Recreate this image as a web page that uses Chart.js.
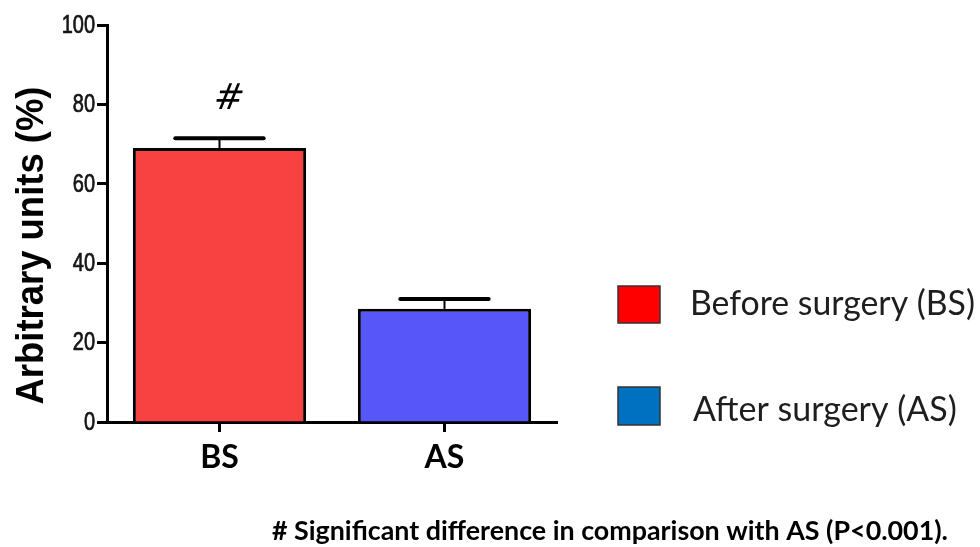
<!DOCTYPE html>
<html>
<head>
<meta charset="utf-8">
<script src="https://cdn.jsdelivr.net/npm/chart.js@4.4.1/dist/chart.umd.min.js"></script>
<style>
  html, body { margin: 0; padding: 0; background: #ffffff; }
  #wrap { position: relative; width: 980px; height: 547px; }
</style>
</head>
<body>
<div id="wrap"><canvas id="chart" width="980" height="547"></canvas></div>
<script>
// Group means and their error (SEM), in arbitrary units (%)
const categories = ['BS', 'AS'];
const meanValues = [69, 28.5];
const semValues = [2.5, 2.5];
const significanceMarks = ['#', ''];
const yTicks = [0, 20, 40, 60, 80, 100];
const yTitle = 'Arbitrary units (%)';
const legendLabels = ['Before surgery (BS)', 'After surgery (AS)'];
const footnote = '# Significant difference in comparison with AS (P<0.001).';

const barFill = ['#f84242', '#5757f9'];
const legendFill = ['#ff0000', '#0070c0'];
const sans = "'Liberation Sans', Arial, sans-serif";
const humanist = "'Lato', 'Open Sans', sans-serif";

// Font size that makes the text span the wanted width
function fitFont(ctx, text, weight, family, width) {
  ctx.font = weight + ' 100px ' + family;
  const w = ctx.measureText(text).width;
  return weight + ' ' + (100 * width / w).toFixed(2) + 'px ' + family;
}

// Condensed y-axis tick labels and title, placed through the y scale
const narrowAxis = {
  id: 'narrowAxis',
  afterDraw(chart) {
    const ctx = chart.ctx;
    const y = chart.scales.y;
    ctx.save();
    ctx.fillStyle = '#151515';
    ctx.strokeStyle = '#151515';
    ctx.lineWidth = 0.7;
    ctx.font = '25px ' + sans;
    ctx.textAlign = 'right';
    ctx.textBaseline = 'middle';
    yTicks.forEach(v => {
      const py = y.getPixelForValue(v);
      ctx.save();
      ctx.translate(95, py + 1);
      ctx.scale(0.8, 1);
      ctx.fillText(String(v), 0, 0);
      ctx.strokeText(String(v), 0, 0);
      ctx.restore();
    });
    // rotated title, squeezed along its length
    ctx.font = 'bold 39px ' + sans;
    const w = ctx.measureText(yTitle).width;
    const cy = (y.getPixelForValue(0) + y.getPixelForValue(100)) / 2 + 22;
    ctx.translate(43, cy);
    ctx.rotate(-Math.PI / 2);
    ctx.scale(318 / w, 1);
    ctx.fillStyle = '#000';
    ctx.textAlign = 'center';
    ctx.textBaseline = 'alphabetic';
    ctx.fillText(yTitle, 0, 0);
    ctx.restore();
  }
};

const errorBars = {
  id: 'errorBars',
  afterDatasetsDraw(chart) {
    const ctx = chart.ctx;
    const meta = chart.getDatasetMeta(0);
    const y = chart.scales.y;
    ctx.save();
    ctx.strokeStyle = '#000';
    meta.data.forEach((bar, i) => {
      const top = y.getPixelForValue(meanValues[i] + semValues[i]);
      const base = y.getPixelForValue(meanValues[i]);
      const half = bar.width * 0.255;
      ctx.lineWidth = 2;
      ctx.beginPath();
      ctx.moveTo(bar.x, base);
      ctx.lineTo(bar.x, top);
      ctx.stroke();
      ctx.lineWidth = 4;
      ctx.lineCap = 'round';
      ctx.beginPath();
      ctx.moveTo(bar.x - half, top);
      ctx.lineTo(bar.x + half, top);
      ctx.stroke();
      ctx.lineCap = 'butt';
      if (significanceMarks[i]) {
        // slanted hash mark above the bar
        ctx.save();
        ctx.fillStyle = '#000';
        ctx.font = "36px 'DejaVu Sans', sans-serif";
        ctx.textAlign = 'center';
        ctx.textBaseline = 'alphabetic';
        ctx.translate(bar.x + 8, top - 29);
        ctx.transform(1, 0, -0.15, 1, 0, 0);
        ctx.fillText(significanceMarks[i], 0, 0);
        ctx.restore();
      }
    });
    ctx.restore();
  }
};

const sideLegend = {
  id: 'sideLegend',
  afterDraw(chart) {
    const ctx = chart.ctx;
    ctx.save();
    const boxes = [{ x: 618, y: 286, w: 42, h: 37, ty: 304, tx: 690, tw: 285 },
                   { x: 618, y: 387, w: 42, h: 38, ty: 410, tx: 693, tw: 264 }];
    boxes.forEach((b, i) => {
      ctx.fillStyle = legendFill[i];
      ctx.fillRect(b.x, b.y, b.w, b.h);
      ctx.lineWidth = 1.5;
      ctx.strokeStyle = '#333';
      ctx.strokeRect(b.x, b.y, b.w, b.h);
      ctx.fillStyle = '#1e1e1e';
      ctx.font = fitFont(ctx, legendLabels[i], '400', humanist, b.tw);
      ctx.textAlign = 'left';
      ctx.textBaseline = 'middle';
      ctx.fillText(legendLabels[i], b.tx, b.ty);
    });
    ctx.fillStyle = '#000';
    ctx.font = fitFont(ctx, footnote, '700', humanist, 676);
    ctx.textAlign = 'left';
    ctx.textBaseline = 'middle';
    ctx.fillText(footnote, 272, 531);
    ctx.restore();
  }
};

new Chart(document.getElementById('chart'), {
  type: 'bar',
  data: {
    labels: categories,
    datasets: [{
      data: meanValues,
      backgroundColor: barFill,
      borderColor: '#000',
      borderWidth: 3,
      borderSkipped: 'start',
      categoryPercentage: 1,
      barPercentage: 0.77
    }]
  },
  options: {
    responsive: false,
    animation: false,
    devicePixelRatio: 1,
    layout: { padding: { left: 0, top: 25, right: 423, bottom: 0 } },
    plugins: { legend: { display: false }, tooltip: { enabled: false } },
    scales: {
      x: {
        afterFit(scale) { scale.height = 125; },
        grid: {
          offset: false,
          drawOnChartArea: false,
          tickLength: 10,
          tickColor: '#000',
          tickWidth: 3
        },
        border: { color: '#000', width: 3 },
        ticks: {
          color: '#000',
          padding: 6,
          font: { family: humanist, size: 32, weight: '700' }
        }
      },
      y: {
        min: 0,
        max: 100,
        afterFit(scale) { scale.width = 107; },
        afterBuildTicks(scale) { scale.ticks = yTicks.map(v => ({ value: v })); },
        grid: {
          drawOnChartArea: false,
          tickLength: 10,
          tickColor: '#000',
          tickWidth: 3
        },
        border: { color: '#000', width: 3 },
        ticks: { display: false },
        title: { display: false }
      }
    }
  },
  plugins: [errorBars, sideLegend, narrowAxis]
});
</script>
</body>
</html>
